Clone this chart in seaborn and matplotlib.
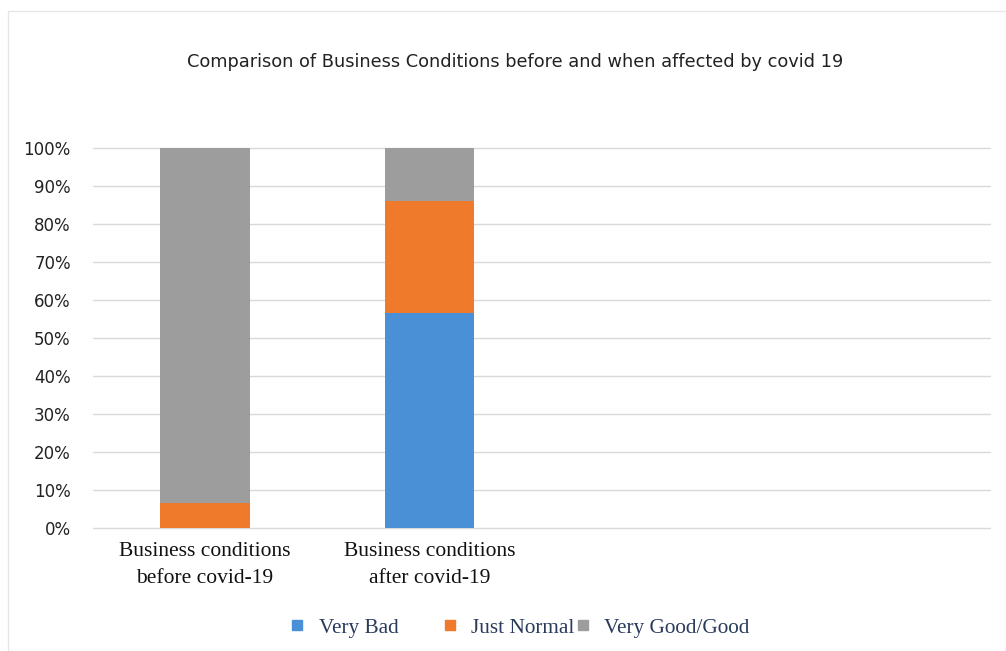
import matplotlib
matplotlib.use("Agg")
import matplotlib.pyplot as plt
import seaborn as sns
import pandas as pd
from matplotlib.patches import Rectangle
from matplotlib.lines import Line2D

categories = ["Business conditions\nbefore covid-19", "Business conditions\nafter covid-19", "", " "]
series = ["Very Bad", "Just Normal", "Very Good/Good"]
very_bad = [0.0, 56.5]
just_normal = [6.5, 29.5]
very_good = [93.5, 14.0]
colors = {"Very Bad": "#4a90d6", "Just Normal": "#f07a2c", "Very Good/Good": "#9d9d9d"}
yticks = list(range(0, 101, 10))
ytick_labels = [f"{t}%" for t in yticks]

sns.set_theme(style="white")
plt.rcParams["font.family"] = ["DejaVu Sans"]

fig = plt.figure(figsize=(10.06, 6.51), dpi=100)
ax = fig.add_axes([93 / 1006, (651 - 528) / 651, (990 - 93) / 1006, (528 - 148) / 651])

# stacked bars drawn back-to-front via cumulative totals
cum_top = [a + b + c for a, b, c in zip(very_bad, just_normal, very_good)]
cum_mid = [a + b for a, b in zip(very_bad, just_normal)]
cum_low = list(very_bad)
for vals, name in [(cum_top, "Very Good/Good"), (cum_mid, "Just Normal"), (cum_low, "Very Bad")]:
    df = pd.DataFrame({"cat": categories[:2], "val": vals})
    sns.barplot(data=df, x="cat", y="val", order=categories, color=colors[name],
                width=0.4, saturation=1, ax=ax, zorder=3, errorbar=None, linewidth=0)

ax.set_ylim(0, 100)
ax.set_xlim(-0.5, 3.5)
ax.set_yticks(yticks)
ax.set_yticklabels(ytick_labels)
ax.yaxis.grid(True, color="#d9d9d9", linewidth=1)
ax.set_axisbelow(True)
for s in ax.spines.values():
    s.set_visible(False)
for gl in ax.get_ygridlines():
    gl.set_clip_on(False)
ax.set_xlabel("")
ax.set_ylabel("")
ax.tick_params(axis="y", labelsize=12, colors="#222222", pad=16, length=0)
ax.tick_params(axis="x", length=0, pad=10)
for lbl in ax.get_xticklabels():
    lbl.set_fontfamily("Liberation Serif")
    lbl.set_fontsize(15.5)
    lbl.set_color("#111111")
    lbl.set_linespacing(1.6)

fig.text(0.512, 0.905, "Comparison of Business Conditions before and when affected by covid 19",
         ha="center", va="center", fontsize=12.8, color="#222222")

handles = [Line2D([0], [0], marker="s", linestyle="none", markersize=7.5,
                  markerfacecolor=colors[s], markeredgecolor=colors[s]) for s in series]
labels = ["Very Bad        ", "Just Normal", "Very Good/Good"]
leg = fig.legend(handles, labels, loc="center", bbox_to_anchor=(0.514, 0.036), ncol=3,
                 frameon=False, handletextpad=0.4, columnspacing=-0.2, handlelength=1.2,
                 prop={"family": "Liberation Serif", "size": 15.3})
for t in leg.get_texts():
    t.set_color("#2a3b5c")

fig.patches.append(Rectangle((8 / 1006, 0), (1006 - 8) / 1006, (651 - 11) / 651,
                             transform=fig.transFigure, fill=False, edgecolor="#e6e6e6",
                             linewidth=1))

fig.savefig("out.png", dpi=100)
